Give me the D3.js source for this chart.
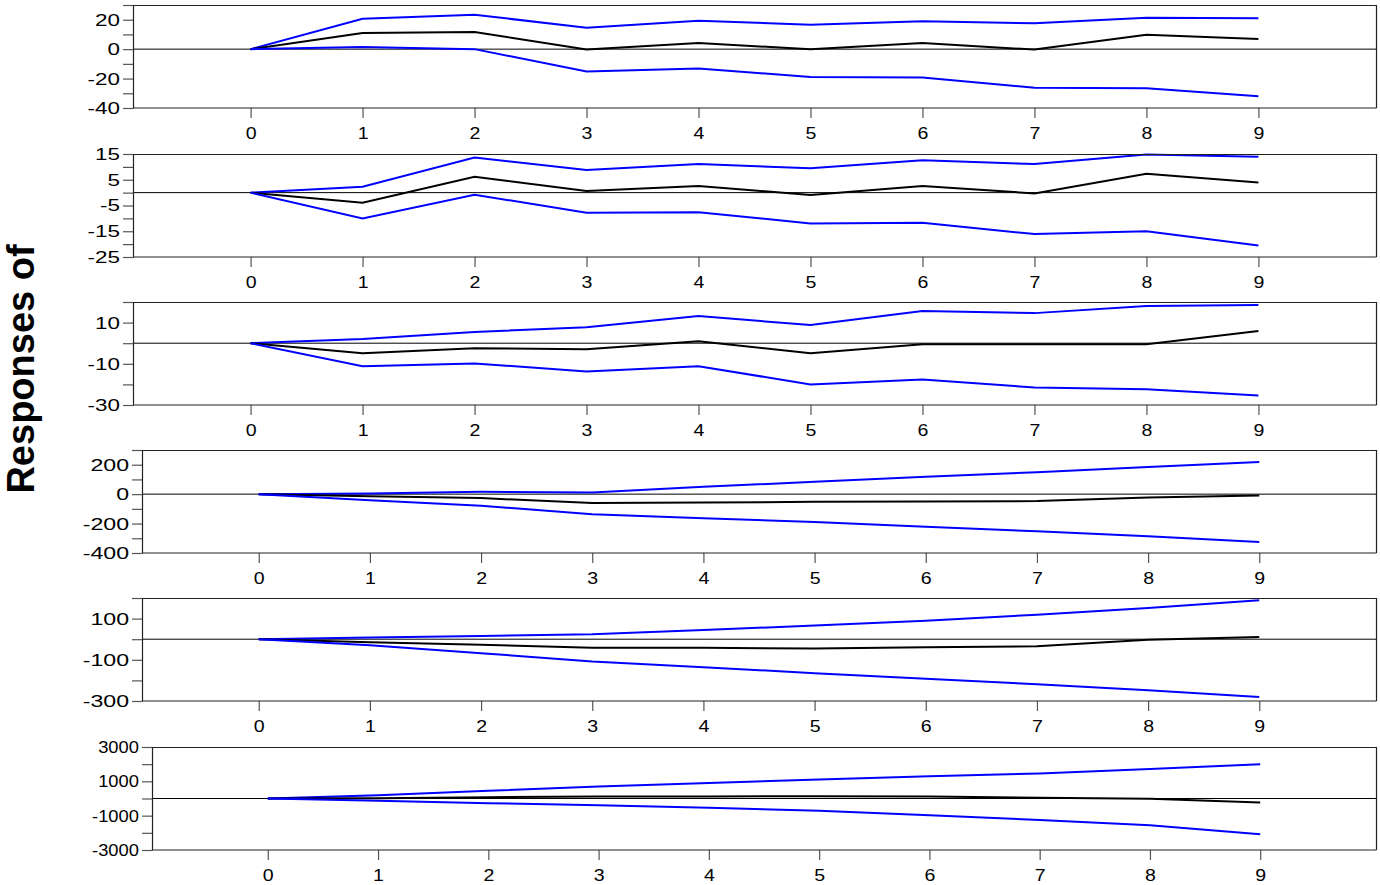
<!DOCTYPE html>
<html>
<head>
<meta charset="utf-8">
<script src="https://cdn.jsdelivr.net/npm/d3@7"></script>
<style>
  body { margin: 0; background: #fff; }
  svg { display: block; font-family: "Liberation Sans", Arial, sans-serif; }
</style>
</head>
<body>
<svg id="chart" width="1380" height="885"></svg>
<script>
// impulse responses, 10 horizons, 6 stacked panels
const horizons = [0, 1, 2, 3, 4, 5, 6, 7, 8, 9];

// panel 1
const p1Upper = [0, 20.7, 23.4, 14.5, 19.3, 16.6, 19.0, 17.6, 21.4, 21.0];
const p1Resp  = [0, 11.0, 11.7, -0.3, 4.1, 0.0, 4.1, -0.3, 9.7, 6.9];
const p1Lower = [0, 1.4, 0.0, -15.2, -13.1, -19.0, -19.3, -26.2, -26.6, -32.0];

// panel 2
const p2Upper = [0, 2.3, 13.6, 8.8, 11.1, 9.5, 12.6, 11.1, 14.8, 13.9];
const p2Resp  = [0, -3.9, 6.2, 0.6, 2.6, -0.9, 2.6, -0.3, 7.3, 3.9];
const p2Lower = [0, -10.0, -0.8, -7.8, -7.6, -12.0, -11.7, -16.1, -15.0, -20.5];

// panel 3
const p3Upper = [0, 2.0, 5.4, 7.8, 13.2, 8.8, 15.6, 14.6, 18.0, 18.5];
const p3Resp  = [0, -4.9, -2.4, -2.9, 1.0, -4.9, -0.5, -0.5, -0.5, 5.9];
const p3Lower = [0, -11.2, -9.8, -13.7, -11.2, -20.0, -17.6, -21.5, -22.4, -25.4];

// panel 4
const p4Upper = [0, 5, 16, 11, 50, 84, 118, 149, 185, 219];
const p4Resp  = [0, -14, -27, -61, -57, -52, -50, -47, -23, -9];
const p4Lower = [0, -41, -79, -136, -163, -190, -221, -253, -287, -326];

// panel 5
const p5Upper = [0, 8, 16, 24, 45, 66, 90, 119, 152, 189];
const p5Resp  = [0, -15, -27, -42, -42, -45, -39, -34, -3, 11];
const p5Lower = [0, -29, -68, -108, -136, -165, -192, -219, -248, -281];

// panel 6
const p6Upper = [0, 195, 450, 700, 900, 1110, 1300, 1460, 1715, 1990];
const p6Resp  = [0, 20, 78, 117, 117, 136, 117, 40, -20, -235];
const p6Lower = [0, -136, -273, -390, -545, -720, -975, -1250, -1560, -2085];

// y axis range and tick step per panel
const yDomains = [[-40, 30], [-25, 15], [-30, 20], [-400, 300], [-300, 200], [-3000, 3000]];
const ySteps = [10, 5, 10, 100, 100, 1000];

const series = [
    [p1Upper, p1Resp, p1Lower],
    [p2Upper, p2Resp, p2Lower],
    [p3Upper, p3Resp, p3Lower],
    [p4Upper, p4Resp, p4Lower],
    [p5Upper, p5Resp, p5Lower],
    [p6Upper, p6Resp, p6Lower]
];

// layout
const panelTops = [5, 154, 302, 450, 598, 747];
const panelLefts = [133, 133, 133, 142, 142, 152];
const panelRight = 1376;
const panelH = 103;
const yLabelStretch = [1.32, 1.32, 1.32, 1.36, 1.36, 1.08];
const xLabelStretch = 1.15;
const lineColors = ['#0000ff', '#000000', '#0000ff'];

const svg = d3.select('#chart');

series.forEach((lines, p) => {
    const top = panelTops[p];
    const left = panelLefts[p];
    const bottom = top + panelH;

    const x = d3.scaleLinear().domain([-1.05, 10.05]).range([left, panelRight]);
    const y = d3.scaleLinear().domain(yDomains[p]).range([bottom, top]);

    const g = svg.append('g').attr('class', 'panel');

    // zero line
    g.append('line')
        .attr('x1', left).attr('x2', panelRight)
        .attr('y1', y(0)).attr('y2', y(0))
        .style('stroke', '#000').style('stroke-width', 1);

    // series
    const line = d3.line()
        .x((d, i) => x(horizons[i]))
        .y(d => y(d));

    lines.forEach((vals, k) => {
        g.append('path')
            .datum(vals)
            .attr('d', line)
            .style('fill', 'none')
            .style('stroke', lineColors[k])
            .style('stroke-width', 2)
            .style('stroke-linejoin', 'miter');
    });

    // frame (top + right)
    g.append('path')
        .attr('d', `M${left},${top + 0.5}H${panelRight + 0.5}V${bottom}`)
        .style('fill', 'none')
        .style('stroke', '#222')
        .style('stroke-width', 1.2);

    // y axis
    const [y0, y1] = yDomains[p];
    const step = ySteps[p];
    const yTicks = d3.range(y0, y1 + step / 2, step);
    const yAxis = g.append('g')
        .attr('transform', `translate(${left},0)`)
        .call(d3.axisLeft(y).tickValues(yTicks).tickSize(10).tickSizeOuter(0)
            .tickFormat((d, i) => i % 2 === 0 ? d : ''));
    yAxis.select('.domain').style('stroke', '#222').style('stroke-width', 1.2);
    yAxis.selectAll('.tick line').style('stroke', '#555').style('stroke-width', 1.2);
    yAxis.selectAll('.tick text')
        .attr('x', 0)
        .attr('transform', `translate(-13,0) scale(${yLabelStretch[p]},1)`)
        .style('font-size', '17px')
        .style('fill', '#000');

    // x axis
    const xAxis = g.append('g')
        .attr('transform', `translate(0,${bottom})`)
        .call(d3.axisBottom(x).tickValues(horizons).tickSize(10).tickSizeOuter(0));
    xAxis.select('.domain').remove();
    xAxis.append('line')
        .attr('x1', left).attr('x2', panelRight + 0.5)
        .style('stroke', '#222').style('stroke-width', 1.2);
    xAxis.selectAll('.tick line').style('stroke', '#555').style('stroke-width', 1.2);
    xAxis.selectAll('.tick text')
        .attr('y', 0).attr('dy', 0)
        .attr('transform', `translate(0,31) scale(${xLabelStretch},1)`)
        .style('font-size', '17px')
        .style('fill', '#000');
});

// y title
svg.append('text')
    .attr('transform', 'translate(34,369) rotate(-90)')
    .style('text-anchor', 'middle')
    .style('font-size', '38px')
    .style('font-weight', 'bold')
    .style('fill', '#000')
    .text('Responses of');
</script>
</body>
</html>
